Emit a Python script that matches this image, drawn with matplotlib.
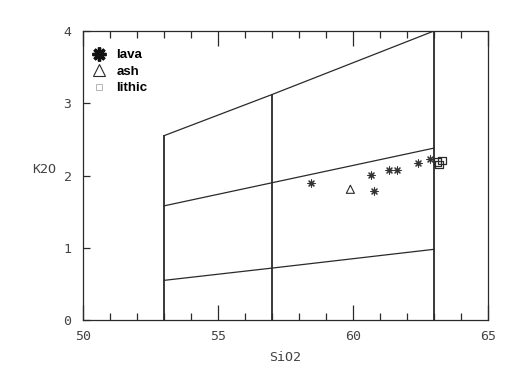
import matplotlib.pyplot as plt
from matplotlib.lines import Line2D

# Limites dos campos (SiO2, K2O)
sio2_limits = [53, 57, 63]
top_line = ([53, 57, 63], [2.55, 3.12, 4.0])
mid_line = ([53, 57, 63], [1.58, 1.90, 2.38])
low_line = ([53, 57, 63], [0.55, 0.72, 0.98])

# Amostras
lava_sio2 = [58.45, 60.67, 60.76, 61.33, 61.63, 62.41, 62.84]
lava_k2o = [1.90, 2.01, 1.78, 2.08, 2.08, 2.18, 2.23]
ash_sio2 = [59.9]
ash_k2o = [1.81]
lithic_sio2 = [63.12, 63.28, 63.18]
lithic_k2o = [2.19, 2.21, 2.15]

ink = '#2a2a2a'
mono = 'DejaVu Sans Mono'

fig = plt.figure(figsize=(5.2, 3.68), dpi=100)
ax = fig.add_axes([0.159, 0.130, 0.780, 0.786])

# Linhas verticais: cada uma sobe ate a linha superior
tops = dict(zip(top_line[0], top_line[1]))
for x in sio2_limits:
    ax.plot([x, x], [0, tops[x]], color=ink, lw=1.3)

for xs, ys in (top_line, mid_line, low_line):
    ax.plot(xs, ys, color=ink, lw=0.9)

ax.scatter(lava_sio2, lava_k2o, marker=(8, 2, 0), s=26, color='#333333', lw=0.8)
ax.scatter(ash_sio2, ash_k2o, marker='^', s=34, facecolors='none',
           edgecolors=ink, lw=0.8)
ax.scatter(lithic_sio2, lithic_k2o, marker='s', s=30, facecolors='none',
           edgecolors=ink, lw=0.9)

ax.set_xlim(50, 65)
ax.set_ylim(0, 4)

ax.set_xticks([50, 55, 60, 65])
ax.set_xticks(range(50, 66), minor=True)
ax.set_yticks([0, 1, 2, 3, 4])
ax.tick_params(axis='x', which='both', direction='in', top=True,
               color=ink, width=0.9)
ax.tick_params(axis='x', which='major', length=11, pad=7)
ax.tick_params(axis='x', which='minor', length=5)
ax.tick_params(axis='y', direction='in', length=5, color=ink, width=0.9, pad=8)
for lab in ax.get_xticklabels() + ax.get_yticklabels():
    lab.set_fontfamily(mono)
    lab.set_fontsize(9.5)
    lab.set_color('#444444')

for sp in ax.spines.values():
    sp.set_color(ink)
    sp.set_linewidth(0.9)

ax.set_xlabel('SiO2', fontfamily=mono, fontsize=9.5, color='#444444', labelpad=6)
ax.set_ylabel('K2O', fontfamily=mono, fontsize=9.5, color='#444444',
              rotation=0, labelpad=14)

handles = [
    Line2D([], [], ls='none', marker=(8, 2, 0), ms=10, mew=2.4, color='#111111'),
    Line2D([], [], ls='none', marker='^', ms=8, mfc='none', mec=ink, mew=0.8),
    Line2D([], [], ls='none', marker='s', ms=5, mfc='none', mec='#aaaaaa',
           mew=0.6),
]
ax.legend(handles, ['lava', 'ash', 'lithic'], loc='upper left',
          bbox_to_anchor=(-0.005, 0.955), frameon=False, handletextpad=0.3,
          labelspacing=0.32, borderaxespad=0,
          prop={'family': 'Liberation Sans', 'weight': 'bold', 'size': 9.5})

fig.savefig('out.png', dpi=100)
